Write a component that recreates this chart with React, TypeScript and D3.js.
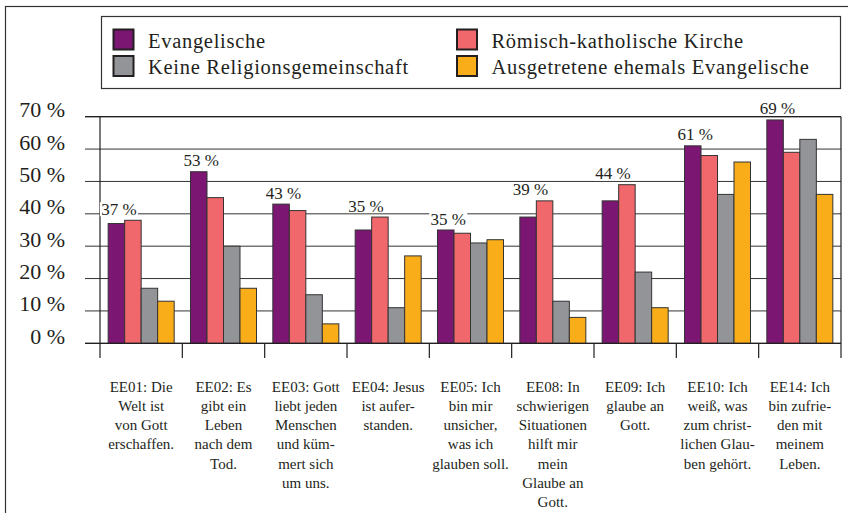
import React from "react";
import * as d3 from "d3";

const categories = ["EE01", "EE02", "EE03", "EE04", "EE05", "EE08", "EE09", "EE10", "EE14"];
const categoryLines: string[][] = [
  ["EE01: Die", "Welt ist", "von Gott", "erschaffen."],
  ["EE02: Es", "gibt ein", "Leben", "nach dem", "Tod."],
  ["EE03: Gott", "liebt jeden", "Menschen", "und küm-", "mert sich", "um uns."],
  ["EE04: Jesus", "ist aufer-", "standen."],
  ["EE05: Ich", "bin mir", "unsicher,", "was ich", "glauben soll."],
  ["EE08: In", "schwierigen", "Situationen", "hilft mir", "mein", "Glaube an", "Gott."],
  ["EE09: Ich", "glaube an", "Gott."],
  ["EE10: Ich", "weiß, was", "zum christ-", "lichen Glau-", "ben gehört."],
  ["EE14: Ich", "bin zufrie-", "den mit", "meinem", "Leben."],
];
const seriesNames = [
  "Evangelische",
  "Römisch-katholische Kirche",
  "Keine Religionsgemeinschaft",
  "Ausgetretene ehemals Evangelische",
];
const evangelisch = [37, 53, 43, 35, 35, 39, 44, 61, 69];
const katholisch = [38, 45, 41, 39, 34, 44, 49, 58, 59];
const keine = [17, 30, 15, 11, 31, 13, 22, 46, 63];
const ausgetreten = [13, 17, 6, 27, 32, 8, 11, 56, 46];
const yTicks = [0, 10, 20, 30, 40, 50, 60, 70];
const colors = ["#7b1672", "#f0676c", "#939497", "#f9ae19"];

const FONT = '"Liberation Serif", Tinos, "Times New Roman", serif';

export default function App() {
  const W = 848, H = 513;
  const left = 100, right = 841, top = 116.7, bottom = 343.3;
  const seriesValues = [evangelisch, katholisch, keine, ausgetreten];
  const y = d3.scaleLinear().domain([0, 70]).range([bottom, top]);
  const x0 = d3.scaleBand<string>().domain(categories).range([left, right]).padding(0);
  const x1 = d3
    .scaleBand<string>()
    .domain(seriesNames)
    .range([0, x0.bandwidth()])
    .paddingInner(0)
    .paddingOuter(0.495);

  const legendItems = [
    { name: seriesNames[0], color: colors[0], x: 113.5, y: 29.5 },
    { name: seriesNames[2], color: colors[2], x: 113.5, y: 56 },
    { name: seriesNames[1], color: colors[1], x: 457, y: 29.5 },
    { name: seriesNames[3], color: colors[3], x: 457, y: 56 },
  ];
  const ts = { fontFamily: FONT };

  return (
    <svg
      width={W}
      height={H}
      style={{ position: "absolute", left: 0, top: 0, background: "#fff" }}
    >
      <rect x={0} y={0} width={W} height={H} fill="#fff" />
      <rect x={5.5} y={6.5} width={W + 20} height={H + 20} fill="none" stroke="#333" strokeWidth={1.2} />
      <rect x={101.5} y={16.5} width={739} height={72} fill="#fff" stroke="#333" strokeWidth={1.2} />
      {legendItems.map((it) => (
        <g key={it.name}>
          <rect x={it.x} y={it.y} width={20} height={20} fill={it.color} stroke="#231f20" strokeWidth={2} />
          <text
            x={it.x + 34.5}
            y={it.y + 18}
            fontSize={20.5}
            letterSpacing={0.7}
            fill="#231f20"
            style={ts}
          >
            {it.name}
          </text>
        </g>
      ))}
      {yTicks.map((t) => (
        <g key={t}>
          <line x1={85} x2={right} y1={y(t)} y2={y(t)} stroke="#333" strokeWidth={1} />
          <text x={65} y={y(t) + 0.5} textAnchor="end" fontSize={22} fill="#231f20" style={ts}>
            {`${t} %`}
          </text>
        </g>
      ))}
      {categories.map((c, i) => (
        <g key={c} transform={`translate(${x0(c)},0)`}>
          {seriesNames.map((s, j) => {
            const v = seriesValues[j][i];
            return (
              <rect
                key={s}
                x={x1(s)}
                y={y(v)}
                width={x1.bandwidth()}
                height={y(0) - y(v)}
                fill={colors[j]}
                stroke="#333"
                strokeWidth={1}
              />
            );
          })}
        </g>
      ))}
      <line x1={left} x2={left} y1={top} y2={358} stroke="#231f20" strokeWidth={1.2} />
      <line x1={right} x2={right} y1={top} y2={358} stroke="#231f20" strokeWidth={1.2} />
      <line x1={85} x2={right} y1={top} y2={top} stroke="#231f20" strokeWidth={1.2} />
      <line x1={85} x2={right} y1={bottom} y2={bottom} stroke="#231f20" strokeWidth={1.2} />
      {categories.slice(1).map((c) => (
        <line key={c} x1={x0(c)} x2={x0(c)} y1={bottom} y2={358} stroke="#231f20" strokeWidth={1.2} />
      ))}
      {categories.map((c, i) => {
        const maxTop = Math.max(evangelisch[i], katholisch[i]);
        const cx = (x0(c) as number) + (x1(seriesNames[0]) as number) + x1.bandwidth() / 2 + 2.5;
        const by = y(maxTop) - 5.5;
        return (
          <g key={c}>
            <rect x={cx - 19} y={by - 12.5} width={38} height={14} fill="#fff" />
            <text x={cx} y={by} textAnchor="middle" fontSize={17} fill="#231f20" style={ts}>
              {`${evangelisch[i]} %`}
            </text>
          </g>
        );
      })}
      {categories.map((c, i) => (
        <text
          key={c}
          x={(x0(c) as number) + x0.bandwidth() / 2}
          y={391.5}
          textAnchor="middle"
          fontSize={15}
          fill="#231f20"
          style={ts}
        >
          {categoryLines[i].map((l, k) => (
            <tspan key={k} x={(x0(c) as number) + x0.bandwidth() / 2} dy={k === 0 ? 0 : 19.3}>
              {l}
            </tspan>
          ))}
        </text>
      ))}
    </svg>
  );
}
